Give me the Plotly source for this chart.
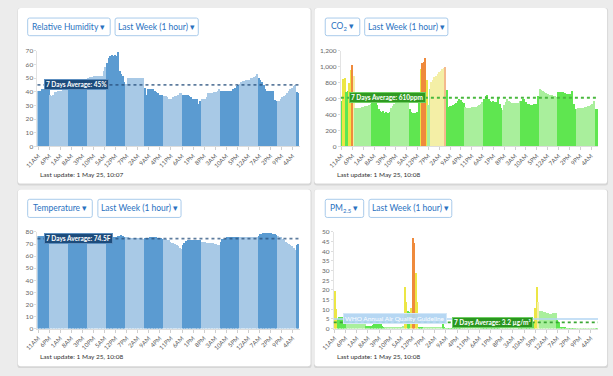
import plotly.graph_objects as go

W, H = 613, 376
FONT = "Lato"

# ---------------- data ----------------
start_hour = 11  # first sample: 11AM
tick_labels = ["11AM", "6PM", "1AM", "8AM", "3PM", "10PM", "5AM", "12PM", "7PM", "2AM",
               "9AM", "4PM", "11PM", "6AM", "1PM", "8PM", "3AM", "10AM", "5PM", "12AM",
               "7AM", "2PM", "9PM", "4AM"]
hours = list(range(166))

rh_values = [
    41, 41, 41, 42, 42, 42, 42, 42,
    38, 37, 38, 40, 40, 41, 41, 41, 42, 42, 42, 42,
    43, 43, 43, 43, 43, 43, 43, 43, 44, 44, 44, 44,
    50, 51, 51, 51, 52, 52, 52, 52, 52, 52, 55, 58,
    61, 65, 66, 67, 66, 67, 66, 69, 55, 53, 52, 47,
    46, 50, 50, 50, 50, 50, 50, 50, 50, 50, 50, 50,
    43, 38, 42, 42, 42, 42, 41, 40, 39, 38, 38, 38,
    37, 37, 36, 35, 35, 35, 36, 37, 37, 38, 39, 39,
    38, 38, 38, 38, 37, 36, 35, 35, 35, 35, 31, 33,
    35, 35, 35, 36, 39, 39, 39, 39, 40, 40, 41, 42,
    41, 41, 41, 41, 41, 41, 41, 41, 42, 43, 44, 45,
    46, 47, 48, 48, 49, 49, 49, 50, 50, 51, 52, 53,
    50, 49, 47, 45, 42, 41, 41, 41, 41, 41, 34, 33,
    33, 33, 35, 36, 37, 38, 39, 41, 42, 43, 44, 45,
    40, 39,
]

co2_values = [
    570, 850, 860, 680, 700, 800, 960, 1020,
    880, 480, 485, 490, 490, 495, 500, 505, 510, 515, 520, 530,
    575, 560, 550, 520, 470, 440, 430, 440, 425, 430, 420, 430,
    480, 510, 530, 550, 570, 580, 590, 600, 600, 600, 610, 600,
    470, 430, 420, 420, 420, 430, 580, 970, 1050, 1060, 1110, 840,
    520, 720, 810, 840, 870, 890, 910, 930, 950, 970, 990, 1000,
    710, 500, 510, 515, 520, 530, 545, 575, 595, 580, 560, 550,
    495, 490, 490, 490, 495, 495, 495, 500, 510, 520, 540, 560,
    596, 640, 650, 600, 570, 555, 575, 560, 555, 625, 540, 480,
    460, 520, 560, 600, 570, 555, 545, 545, 545, 545, 550, 570,
    575, 600, 600, 560, 530, 530, 525, 525, 530, 530, 540, 640,
    720, 710, 700, 685, 670, 660, 650, 645, 645, 640, 635, 625,
    690, 690, 685, 680, 670, 665, 665, 660, 660, 700, 540, 470,
    475, 480, 480, 485, 490, 495, 500, 505, 510, 520, 540, 570,
    470, 465,
]

temp_values = [
    76.5, 77, 77, 77, 77, 77, 77, 76.5,
    75.5, 75, 75, 75, 75, 75, 75, 75, 75, 75, 75, 75,
    75, 75, 75, 75, 75, 75, 75, 75, 75, 75, 75, 75,
    75, 75, 75, 75, 75, 75, 75, 75, 75, 75, 75.5, 76,
    75.5, 75.5, 75.5, 76, 76, 76, 76, 76.5, 77, 77.5, 77, 76,
    75.5, 75.5, 75, 75, 75, 75, 75, 75, 75, 75, 74.5, 74.5,
    75, 75, 75, 75.5, 75.5, 75.5, 75.5, 75.5, 75, 75, 75, 74.5,
    74.5, 74, 73.5, 73, 72, 71, 70.5, 70, 69, 68, 67, 66,
    69, 71, 72.5, 73, 73.5, 73.5, 73.5, 73.5, 73.5, 73.5, 73.5, 73,
    71.5, 71.5, 71.5, 71, 71, 71, 70.5, 70.5, 70, 70, 69.5, 69.5,
    72, 74, 74.5, 75, 75.5, 75.5, 75.5, 75.5, 76, 76, 76, 76,
    76, 76, 76, 76, 76, 76, 76, 76, 76, 75.5, 75.5, 75.5,
    77, 78, 78.5, 79, 79.5, 79.5, 79.5, 79, 79, 78.5, 78, 77.5,
    77, 76, 75.5, 74.5, 73, 72, 71, 70, 69, 68, 66.5, 65.5,
    69, 70,
]

pm25_values = [
    19.5, 10, 5, 6, 6, 6, 5.5, 5,
    4, 4, 3.5, 3.5, 3, 3, 3, 2.5, 2.5, 2.5, 3, 3,
    1.5, 1.2, 1.2, 1.5, 2, 3, 3, 3, 3, 2.5, 1.2, 1,
    0.8, 0.8, 0.6, 0.5, 0.5, 0.5, 0.5, 0.5, 0.5, 0.8, 1, 1.5,
    21.5, 14, 9, 8.5, 10.5, 47, 44.5, 29, 13.5, 1, 0.5, 0.5,
    0.5, 0.5, 0.4, 0.4, 0.3, 0.3, 0.3, 0.3, 0.3, 0.3, 0.3, 0.3,
    2.5, 0.3, 0.2, 0.2, 0.2, 0.2, 0.2, 0.2, 0.2, 0.2, 0.2, 0.2,
    0.3, 0.3, 0.3, 0.3, 0.3, 0.3, 0.3, 0.3, 0.3, 0.3, 0.3, 0.3,
    0.2, 0.2, 0.2, 0.2, 0.2, 0.2, 0.2, 0.2, 0.2, 0.2, 0.2, 0.2,
    0.3, 0.3, 0.3, 0.3, 0.3, 0.3, 0.3, 0.3, 0.3, 0.3, 0.3, 0.3,
    0.3, 0.3, 0.5, 1, 1.5, 2, 2.8, 3.2, 3.3, 3.3, 10.5, 21.5,
    14, 9, 9, 8.5, 8.5, 8, 8, 7.5, 7.5, 8, 8, 8,
    4.5, 3.5, 1, 0.3, 0.3, 0.3, 0.2, 0.2, 0.2, 0.2, 0.2, 0.2,
    0.2, 0.2, 0.2, 0.2, 0.2, 0.2, 0.2, 0.2, 0.2, 0.2, 0.2, 0.2,
    0.2, 0.2,
]

rh_average = 45
co2_average = 610
temp_average = 74.5
pm25_average = 3.2
who_guideline = 5

metric_names = ["Relative Humidity ▾", "CO<sub>2</sub> ▾", "Temperature ▾", "PM<sub>2.5</sub> ▾"]
period_name = "Last Week (1 hour) ▾"
update_texts = ["Last update: 1 May 25, 10:07", "Last update: 1 May 25, 10:08",
                "Last update: 1 May 25, 10:08", "Last update: 1 May 25, 10:08"]
avg_texts = ["7 Days Average: 45%", "7 Days Average: 610ppm",
             "7 Days Average: 74.5F", "7 Days Average: 3.2 µg/m³"]
who_text = "WHO Annual Air Quality Guideline"

# ---------------- styling ----------------
BLUE_D, BLUE_L = "#5b9bd1", "#a8c9e6"
GREEN_D, GREEN_L = "#5fe650", "#a9ef9c"
YELLOW_D, YELLOW_L = "#ece645", "#f4efa6"
ORANGE_D, ORANGE_L = "#ef8a3c", "#f4b98d"


def is_day(t):
    h = (start_hour + t) % 24
    return 7 <= h < 19


def blue_colors():
    return [BLUE_D if is_day(t) else BLUE_L for t in hours]


def air_colors(values, y_thr, o_thr, strict):
    cols = []
    for t, v in zip(hours, values):
        if (v > o_thr) if strict else (v >= o_thr):
            c = ORANGE_D if is_day(t) else ORANGE_L
        elif (v > y_thr) if strict else (v >= y_thr):
            c = YELLOW_D if is_day(t) else YELLOW_L
        else:
            c = GREEN_D if is_day(t) else GREEN_L
        cols.append(c)
    return cols


def px(x):
    return x / W


def py(y):
    return 1 - y / H


def rrect(x0, y0, x1, y1, r):
    pts = [
        f"M{px(x0 + r)},{py(y0)}", f"L{px(x1 - r)},{py(y0)}",
        f"Q{px(x1)},{py(y0)} {px(x1)},{py(y0 + r)}", f"L{px(x1)},{py(y1 - r)}",
        f"Q{px(x1)},{py(y1)} {px(x1 - r)},{py(y1)}", f"L{px(x0 + r)},{py(y1)}",
        f"Q{px(x0)},{py(y1)} {px(x0)},{py(y1 - r)}", f"L{px(x0)},{py(y0 + r)}",
        f"Q{px(x0)},{py(y0)} {px(x0 + r)},{py(y0)}", "Z",
    ]
    return " ".join(pts)


fig = go.Figure()

series = [
    (rh_values, blue_colors(), "x", "y"),
    (co2_values, air_colors(co2_values, 800, 1000, False), "x2", "y2"),
    (temp_values, blue_colors(), "x3", "y3"),
    (pm25_values, air_colors(pm25_values, 9, 35, True), "x4", "y4"),
]
for vals, cols, xa, ya in series:
    fig.add_trace(go.Bar(x=hours, y=vals, width=1, marker=dict(color=cols, line=dict(width=0)),
                         xaxis=xa, yaxis=ya, hoverinfo="skip", showlegend=False))

# plot areas in pixels: (left, right, top, bottom)
areas = [(25, 293, 47.7, 145), (335, 597.7, 47.7, 145),
         (25, 293, 232.3, 330.7), (327.7, 597.7, 232.3, 330.7)]
yranges = [(70, 10, ""), (1200, 200, ","), (80, 10, ""), (50, 5, "")]

layout = dict(
    width=W, height=H, autosize=False,
    margin=dict(l=0, r=0, t=0, b=0),
    paper_bgcolor="#ececec", plot_bgcolor="rgba(0,0,0,0)",
    bargap=0, barmode="overlay",
    font=dict(family=FONT, color="#555"),
    showlegend=False,
)
for i, ((l, r, t, b), (ymax, dt, fmt)) in enumerate(zip(areas, yranges)):
    sfx = "" if i == 0 else str(i + 1)
    layout["xaxis" + sfx] = dict(
        domain=[px(l), px(r)], range=[-0.5, 165.5], anchor="y" + sfx,
        tickmode="array", tickvals=hours[::7], ticktext=tick_labels, tickangle=-45,
        tickfont=dict(family=FONT, size=6, color="#555"),
        ticks="outside", ticklen=3, tickcolor="#cfcfcf",
        showgrid=False, zeroline=False, showline=True, linecolor="#dddddd", linewidth=1,
        fixedrange=True)
    layout["yaxis" + sfx] = dict(
        domain=[py(b), py(t)], range=[0, ymax], anchor="x" + sfx,
        tick0=0, dtick=dt, tickformat=fmt,
        tickfont=dict(family=FONT, size=6.5, color="#666"),
        ticks="outside", ticklen=2, tickcolor="#dddddd",
        showgrid=False, zeroline=False, showline=True, linecolor="#e3e3e3", linewidth=1,
        fixedrange=True)
fig.update_layout(**layout)

shapes = []
annotations = []

# cards
cards = [(5, 4, 304, 183), (308, 4, 607, 183), (5, 189, 304, 369), (308, 189, 607, 369)]
for (x0, y0, x1, y1) in cards:
    shapes.append(dict(type="path", path=rrect(x0 - 0.5, y0, x1 + 1, y1 + 2, 3), xref="paper", yref="paper",
                       fillcolor="#d6d6d6", line=dict(width=0), layer="below"))
    shapes.append(dict(type="path", path=rrect(x0, y0, x1, y1, 3), xref="paper", yref="paper",
                       fillcolor="#ffffff", line=dict(width=0), layer="below"))

# buttons
buttons = [
    (15, 14.3, 99.3, 32.3, metric_names[0]), (104.3, 14.3, 189.3, 32.3, period_name),
    (319, 14.3, 354.3, 32.3, metric_names[1]), (359.3, 14.3, 444.3, 32.3, period_name),
    (15, 199, 81, 217.5, metric_names[2]), (86.7, 199, 171.7, 217.5, period_name),
    (319, 199, 358.3, 217.5, metric_names[3]), (363.7, 199, 448.3, 217.5, period_name),
]
for (x0, y0, x1, y1, txt) in buttons:
    shapes.append(dict(type="path", path=rrect(x0, y0, x1, y1, 2), xref="paper", yref="paper",
                       fillcolor="#ffffff", line=dict(color="#a9cbeb", width=1), layer="below"))
    annotations.append(dict(text=txt, x=px((x0 + x1) / 2), y=py((y0 + y1) / 2), xref="paper", yref="paper",
                            xanchor="center", yanchor="middle", showarrow=False,
                            font=dict(family=FONT, size=8.5, color="#2a72bf")))

# last update texts
for (x, y), txt in zip([(25.5, 173.3), (329, 173.3), (25.5, 358.7), (329, 358.7)], update_texts):
    annotations.append(dict(text=txt, x=px(x), y=py(y), xref="paper", yref="paper",
                            xanchor="left", yanchor="middle", showarrow=False,
                            font=dict(family=FONT, size=6.5, color="#333")))

# average lines + labels
avg_specs = [
    ("x", "y", rh_average, "rgba(40,80,125,0.75)", "#1d4c7c", "#5d8fc0", 3.9, avg_texts[0]),
    ("x2", "y2", co2_average, "#49b83e", "#2f9a22", "#6fcf62", 4.7, avg_texts[1]),
    ("x3", "y3", temp_average, "rgba(40,80,125,0.75)", "#1d4c7c", "#5d8fc0", 3.9, avg_texts[2]),
    ("x4", "y4", pm25_average, "#3aa634", "#2a961f", "#6fcf62", 74, avg_texts[3]),
]

# WHO guideline (PM2.5)
shapes.append(dict(type="line", xref="x4 domain", yref="y4", x0=0, x1=1, y0=who_guideline, y1=who_guideline,
                   line=dict(color="#b3d6f3", width=1.5)))
annotations.append(dict(text=who_text, x=5, y=who_guideline, xref="x4", yref="y4",
                        xanchor="left", yanchor="middle", showarrow=False,
                        bgcolor="rgba(176,212,242,0.92)", bordercolor="#d3e7f8", borderwidth=1, borderpad=1,
                        font=dict(family=FONT, size=6.5, color="#ffffff")))

for xa, ya, val, lcol, bg, bc, lx, txt in avg_specs:
    shapes.append(dict(type="line", xref=xa + " domain", yref=ya, x0=0, x1=1, y0=val, y1=val,
                       line=dict(color=lcol, width=1.8, dash="dot")))
    annotations.append(dict(text="<b>" + txt + "</b>", x=lx, y=val, xref=xa, yref=ya,
                            xanchor="left", yanchor="middle", showarrow=False,
                            bgcolor=bg, bordercolor=bc, borderwidth=1, borderpad=1,
                            font=dict(family=FONT, size=6.5, color="#ffffff")))

fig.update_layout(shapes=shapes, annotations=annotations)
fig.write_html("out.html", config={"displayModeBar": False},
               post_script="document.body.style.margin='0';document.body.style.overflow='hidden';")
